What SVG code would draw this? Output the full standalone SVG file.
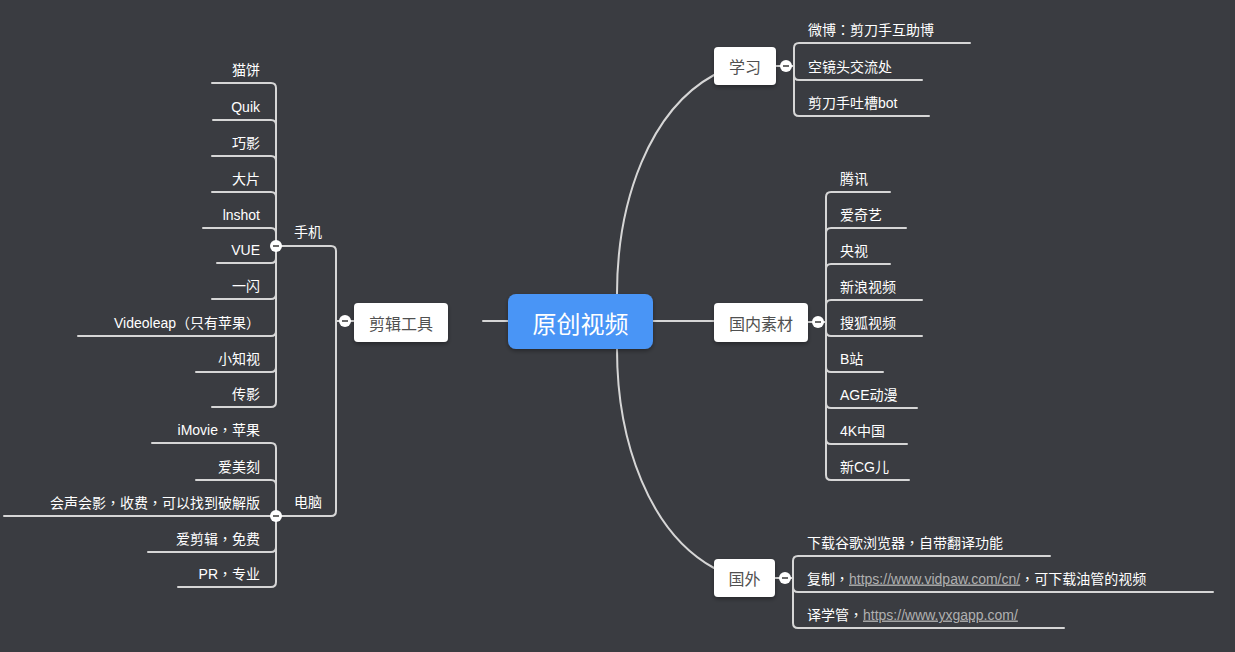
<svg xmlns="http://www.w3.org/2000/svg" width="1235" height="652" viewBox="0 0 1235 652">
<defs>
<filter id="sh" x="-20%" y="-30%" width="140%" height="170%">
<feDropShadow dx="0" dy="2" stdDeviation="2" flood-color="#000" flood-opacity="0.35"/>
</filter>
<style>
.ln{fill:none;stroke:#d6d6d6;stroke-width:2;stroke-linecap:round}
.node{fill:#ffffff}
.nt{font-family:"Noto Sans CJK SC","Microsoft YaHei",sans-serif;font-size:16px;fill:#505050;text-anchor:middle;dominant-baseline:central}
.ct{font-family:"Liberation Sans","Noto Sans CJK SC",sans-serif;font-size:14px;fill:#ffffff}
.p{font-family:"Noto Sans CJK TC",sans-serif}
.r{text-anchor:end}
.lk{fill:#b0b0b0;text-decoration:underline}
.cb{fill:#ffffff}
.mn{stroke:#6a6a6a;stroke-width:2}
</style>
</defs>
<rect x="0" y="0" width="1235" height="652" fill="#3a3c41"/>

<g id="connectors">
<path class="ln" d="M483,321 H508"/>
<path class="ln" d="M653,321 H714"/>
<path class="ln" d="M617,294 C617,200 650,110 714,75"/>
<path class="ln" d="M617,349 C617,443 650,533 714,568"/>
<path class="ln" d="M354,321 H336 V251 Q336,246 331,246 H276"/>
<path class="ln" d="M336,321 V511 Q336,516 331,516 H276"/>
<path class="ln" d="M276,246 V88 Q276,83 271,83 H212"/>
<path class="ln" d="M276,246 V125 Q276,120 271,120 H213"/>
<path class="ln" d="M276,246 V161 Q276,156 271,156 H212"/>
<path class="ln" d="M276,246 V197 Q276,192 271,192 H212"/>
<path class="ln" d="M276,246 V233 Q276,228 271,228 H203"/>
<path class="ln" d="M276,246 V258 Q276,263 271,263 H217"/>
<path class="ln" d="M276,246 V294 Q276,299 271,299 H212"/>
<path class="ln" d="M276,246 V331 Q276,336 271,336 H78"/>
<path class="ln" d="M276,246 V367 Q276,372 271,372 H196"/>
<path class="ln" d="M276,246 V402 Q276,407 271,407 H212"/>
<path class="ln" d="M276,516 V448 Q276,443 271,443 H152"/>
<path class="ln" d="M276,516 V485 Q276,480 271,480 H196"/>
<path class="ln" d="M276,516 H4"/>
<path class="ln" d="M276,516 V547 Q276,552 271,552 H148"/>
<path class="ln" d="M276,516 V582 Q276,587 271,587 H178"/>
<path class="ln" d="M776,66 H794"/>
<path class="ln" d="M794,66 V48 Q794,43 799,43 H970"/>
<path class="ln" d="M794,66 V75 Q794,80 799,80 H922"/>
<path class="ln" d="M794,66 V111 Q794,116 799,116 H929"/>
<path class="ln" d="M808,322 H826"/>
<path class="ln" d="M826,322 V197 Q826,192 831,192 H890"/>
<path class="ln" d="M826,322 V233 Q826,228 831,228 H906"/>
<path class="ln" d="M826,322 V269 Q826,264 831,264 H890"/>
<path class="ln" d="M826,322 V305 Q826,300 831,300 H922"/>
<path class="ln" d="M826,322 V331 Q826,336 831,336 H922"/>
<path class="ln" d="M826,322 V367 Q826,372 831,372 H883"/>
<path class="ln" d="M826,322 V403 Q826,408 831,408 H917"/>
<path class="ln" d="M826,322 V439 Q826,444 831,444 H907"/>
<path class="ln" d="M826,322 V475 Q826,480 831,480 H909"/>
<path class="ln" d="M775,578 H793"/>
<path class="ln" d="M793,578 V561 Q793,556 798,556 H1050"/>
<path class="ln" d="M793,578 V587 Q793,592 798,592 H1213"/>
<path class="ln" d="M793,578 V623 Q793,628 798,628 H1064"/>
</g>

<g id="center">
<rect x="508" y="294" width="145" height="55" rx="8" fill="#4a95f6" filter="url(#sh)"/>
<text x="580.5" y="322" font-family="'Noto Sans CJK SC',sans-serif" font-size="24" fill="#ffffff" text-anchor="middle" dominant-baseline="central">原创视频</text>
</g>

<g id="n-jianji">
<rect class="node" x="354" y="303" width="94" height="39" rx="4" filter="url(#sh)"/>
<text class="nt" x="401" y="322.5">剪辑工具</text>
<circle class="cb" cx="345" cy="321" r="6"/><path class="mn" d="M342,321 H348"/>
</g>

<g id="n-shouji">
<text class="ct" x="294" y="237">手机</text>
<circle class="cb" cx="276" cy="246" r="6"/><path class="mn" d="M273,246 H279"/>
<text class="ct r" x="260" y="74.5">猫饼</text>
<text class="ct r" x="260" y="111.5">Quik</text>
<text class="ct r" x="260" y="147.5">巧影</text>
<text class="ct r" x="260" y="183.5">大片</text>
<text class="ct r" x="260" y="219.5">lnshot</text>
<text class="ct r" x="260" y="254.5">VUE</text>
<text class="ct r" x="260" y="290.5">一闪</text>
<text class="ct r" x="260" y="327.5">Videoleap<tspan class="p">（</tspan>只有苹果<tspan class="p">）</tspan></text>
<text class="ct r" x="260" y="363.5">小知视</text>
<text class="ct r" x="260" y="398.5">传影</text>
</g>

<g id="n-diannao">
<text class="ct" x="294" y="507">电脑</text>
<circle class="cb" cx="276" cy="516" r="6"/><path class="mn" d="M273,516 H279"/>
<text class="ct r" x="260" y="434.5">iMovie<tspan class="p">，</tspan>苹果</text>
<text class="ct r" x="260" y="471.5">爱美刻</text>
<text class="ct r" x="260" y="507.5">会声会影<tspan class="p">，</tspan>收费<tspan class="p">，</tspan>可以找到破解版</text>
<text class="ct r" x="260" y="543.5">爱剪辑<tspan class="p">，</tspan>免费</text>
<text class="ct r" x="260" y="578.5">PR<tspan class="p">，</tspan>专业</text>
</g>

<g id="n-xuexi">
<rect class="node" x="714" y="47" width="62" height="38" rx="4" filter="url(#sh)"/>
<text class="nt" x="745" y="66">学习</text>
<circle class="cb" cx="786" cy="66" r="6"/><path class="mn" d="M783,66 H789"/>
<text class="ct" x="808" y="34.5">微博<tspan class="p">：</tspan>剪刀手互助博</text>
<text class="ct" x="808" y="71.5">空镜头交流处</text>
<text class="ct" x="808" y="107.5">剪刀手吐槽bot</text>
</g>

<g id="n-guonei">
<rect class="node" x="714" y="303" width="94" height="39" rx="4" filter="url(#sh)"/>
<text class="nt" x="761" y="322.5">国内素材</text>
<circle class="cb" cx="818" cy="322" r="6"/><path class="mn" d="M815,322 H821"/>
<text class="ct" x="840" y="183.5">腾讯</text>
<text class="ct" x="840" y="219.5">爱奇艺</text>
<text class="ct" x="840" y="255.5">央视</text>
<text class="ct" x="840" y="291.5">新浪视频</text>
<text class="ct" x="840" y="327.5">搜狐视频</text>
<text class="ct" x="840" y="363.5">B站</text>
<text class="ct" x="840" y="399.5">AGE动漫</text>
<text class="ct" x="840" y="435.5">4K中国</text>
<text class="ct" x="840" y="471.5">新CG儿</text>
</g>

<g id="n-guowai">
<rect class="node" x="714" y="559" width="61" height="38" rx="4" filter="url(#sh)"/>
<text class="nt" x="744.5" y="578">国外</text>
<circle class="cb" cx="785" cy="578" r="6"/><path class="mn" d="M782,578 H788"/>
<text class="ct" x="807" y="547.5">下载谷歌浏览器<tspan class="p">，</tspan>自带翻译功能</text>
<text class="ct" x="807" y="583.5">复制<tspan class="p">，</tspan><tspan class="lk">https://www.vidpaw.com/cn/</tspan><tspan class="p">，</tspan>可下载油管的视频</text>
<text class="ct" x="807" y="619.5">译学管<tspan class="p">，</tspan><tspan class="lk">https://www.yxgapp.com/</tspan></text>
</g>
</svg>
